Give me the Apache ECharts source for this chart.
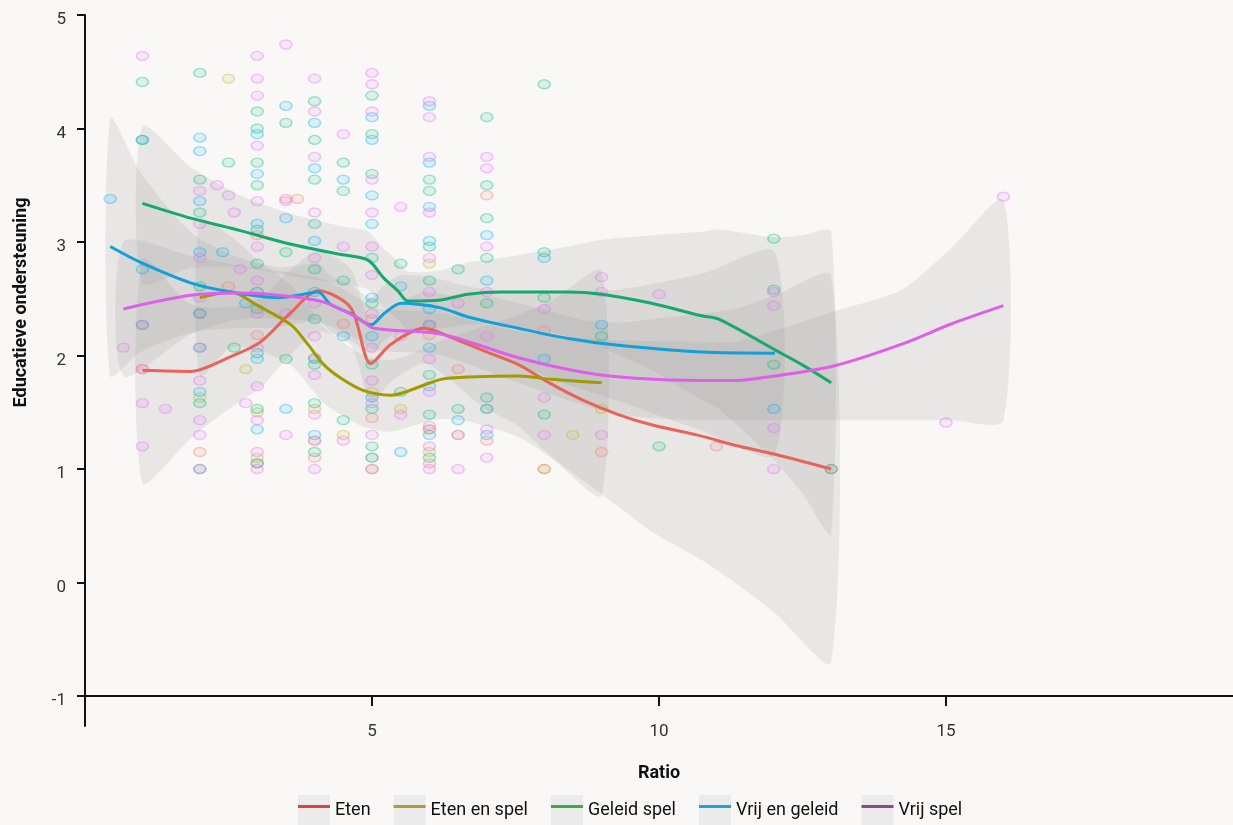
<!DOCTYPE html>
<html><head><meta charset="utf-8">
<script src="https://cdn.jsdelivr.net/npm/echarts@6/dist/echarts.min.js"></script>
<style>html,body{margin:0;padding:0;background:#f9f8f6;}#c{width:1233px;height:825px;}</style>
</head><body><div id="c"></div>
<script>
const groups = ['Eten', 'Eten en spel', 'Geleid spel', 'Vrij en geleid', 'Vrij spel'];
const xTicks = [5, 10, 15];
const yTicks = [-1, 0, 1, 2, 3, 4, 5];

// smoothed curves (x, fitted value, lower, upper)
const etenX  = [1, 1.84, 2.54, 3.06, 3.59, 4.06, 4.63, 4.98, 5.33, 5.91, 6.38, 6.95, 7.55, 8.12, 8.7, 9.29, 9.87, 10.74, 11.32, 12.02, 13];
const etenY  = [1.87, 1.86, 1.99, 2.12, 2.38, 2.57, 2.42, 1.93, 2.10, 2.24, 2.16, 2.04, 1.92, 1.75, 1.60, 1.48, 1.39, 1.29, 1.21, 1.13, 1.0];
const etenLo = [0.88, 1.27, 1.54, 1.72, 2.01, 2.21, 2.09, 1.58, 1.77, 1.93, 1.78, 1.54, 1.38, 1.11, 0.89, 0.67, 0.45, 0.20, 0.0, -0.27, -0.70];
const etenHi = [2.85, 2.45, 2.43, 2.51, 2.76, 2.92, 2.76, 2.28, 2.42, 2.56, 2.53, 2.53, 2.46, 2.39, 2.31, 2.29, 2.32, 2.37, 2.41, 2.53, 2.70];

const etenSpelX  = [2, 2.54, 3.01, 3.59, 3.88, 4.16, 4.46, 4.86, 5.33, 5.91, 6.2, 6.67, 7.55, 8.12, 9];
const etenSpelY  = [2.51, 2.56, 2.44, 2.27, 2.10, 1.92, 1.80, 1.69, 1.65, 1.74, 1.79, 1.81, 1.82, 1.79, 1.76];
const etenSpelLo = [1.82, 2.07, 2.05, 1.91, 1.75, 1.58, 1.48, 1.37, 1.33, 1.41, 1.44, 1.42, 1.28, 1.10, 0.77];
const etenSpelHi = [3.20, 3.05, 2.84, 2.62, 2.44, 2.25, 2.13, 2.00, 1.96, 2.06, 2.13, 2.21, 2.36, 2.48, 2.74];

const geleidX  = [1, 1.84, 2.71, 3.59, 4.46, 4.93, 5.21, 5.45, 5.63, 6.2, 6.67, 7.25, 8.42, 9.0, 9.87, 10.74, 11.04, 12.02, 12.49, 13];
const geleidY  = [3.34, 3.21, 3.10, 2.98, 2.89, 2.84, 2.68, 2.57, 2.48, 2.49, 2.54, 2.56, 2.56, 2.54, 2.46, 2.35, 2.32, 2.05, 1.92, 1.76];
const geleidLo = [2.64, 2.77, 2.78, 2.70, 2.63, 2.58, 2.42, 2.32, 2.23, 2.24, 2.27, 2.27, 2.17, 2.07, 1.87, 1.61, 1.53, 1.07, 0.79, 0.43];
const geleidHi = [4.02, 3.66, 3.41, 3.25, 3.14, 3.09, 2.94, 2.83, 2.74, 2.75, 2.82, 2.86, 2.96, 3.02, 3.06, 3.09, 3.11, 3.04, 3.06, 3.09];

const vrijGelX  = [0.44, 0.97, 1.84, 2.54, 3.36, 3.81, 4.06, 4.28, 4.63, 4.98, 5.21, 5.51, 6.2, 6.67, 7.55, 8.42, 9.29, 10.74, 12.02];
const vrijGelY  = [2.96, 2.82, 2.64, 2.56, 2.51, 2.54, 2.56, 2.45, 2.37, 2.27, 2.37, 2.46, 2.42, 2.34, 2.24, 2.15, 2.09, 2.03, 2.02];
const vrijGelLo = [1.82, 2.03, 2.20, 2.24, 2.25, 2.29, 2.31, 2.21, 2.13, 2.02, 2.13, 2.22, 2.18, 2.08, 1.92, 1.74, 1.60, 1.34, 1.13];
const vrijGelHi = [4.09, 3.61, 3.09, 2.89, 2.78, 2.80, 2.82, 2.70, 2.62, 2.51, 2.62, 2.71, 2.67, 2.61, 2.55, 2.56, 2.58, 2.72, 2.91];

const vrijSpelX  = [0.67, 1.84, 2.71, 3.59, 4.16, 4.76, 5.03, 6.2, 7.55, 8.7, 9.58, 10.74, 11.32, 12.02, 13.06, 14.23, 15.1, 16];
const vrijSpelY  = [2.41, 2.53, 2.55, 2.52, 2.47, 2.33, 2.24, 2.19, 1.98, 1.85, 1.80, 1.78, 1.78, 1.82, 1.91, 2.10, 2.28, 2.44];
const vrijSpelLo = [1.82, 2.19, 2.32, 2.32, 2.28, 2.14, 2.05, 2.00, 1.76, 1.56, 1.46, 1.43, 1.43, 1.43, 1.43, 1.43, 1.43, 1.43];
const vrijSpelHi = [3.00, 2.88, 2.79, 2.73, 2.67, 2.51, 2.42, 2.37, 2.21, 2.15, 2.13, 2.12, 2.12, 2.22, 2.39, 2.58, 2.95, 3.37];

// observations [ratio, score]
const etenPts = [[1,1.88],[2,2.37],[2,1.15],[2.5,2.61],[3,3.06],[3,2.18],[3,1.05],[3.5,3.38],[3.7,3.38],[4,1.98],[4,1.1],[4.5,2.28],[5,2.32],[5,1.45],[6,2.18],[6,1.35],[6,1.05],[6.5,1.88],[7,3.41],[7,1.25],[8,2.22],[8,1.0],[9,1.15],[11,1.2],[13,1.0]];
const etenSpelPts = [[2,1.63],[2.5,4.44],[2.8,1.88],[3,2.56],[3,1.5],[3,1.1],[4,1.53],[4,1.25],[4.5,1.3],[5,1.68],[5,1.0],[5,1.1],[5.5,1.53],[6,2.81],[6,1.35],[6,1.15],[6.5,1.3],[7,1.53],[8,1.0],[8.5,1.3],[9,1.53]];
const geleidPts = [[1,4.41],[1,3.9],[1,2.27],[2,4.49],[2,3.55],[2,3.26],[2,2.61],[2,2.07],[2,1.58],[2,1.0],[2.5,3.7],[2.6,2.07],[3,4.15],[3,4.0],[3,3.7],[3,3.5],[3,3.11],[3,2.81],[3,2.41],[3,2.02],[3,1.53],[3,1.05],[3.5,4.05],[3.5,2.91],[3.5,1.97],[4,4.24],[4,3.9],[4,3.55],[4,3.16],[4,2.76],[4,2.32],[4,1.92],[4,1.58],[4,1.15],[4.5,3.7],[4.5,3.45],[4.5,2.66],[4.5,1.43],[5,4.29],[5,3.95],[5,3.6],[5,2.86],[5,2.46],[5,1.92],[5,1.53],[5,1.2],[5.5,2.81],[5.5,1.68],[6,3.55],[6,3.45],[6,2.96],[6,2.66],[6,2.27],[6,1.83],[6,1.48],[6,1.1],[6.5,2.76],[6.5,1.53],[7,4.1],[7,3.5],[7,3.21],[7,2.86],[7,2.46],[7,1.63],[8,4.39],[8,2.91],[8,2.51],[8,1.48],[9,2.17],[10,1.2],[12,3.03],[12,2.58],[12,1.92],[13,1.0]];
const vrijGelPts = [[0.44,3.38],[1,3.9],[1,2.76],[2,3.92],[2,3.8],[2,3.36],[2,2.91],[2,2.37],[2,1.68],[2.4,2.91],[2.8,2.46],[3,3.95],[3,3.6],[3,3.16],[3,2.56],[3,1.97],[3,1.35],[3.5,4.2],[3.5,3.21],[3.5,1.53],[4,4.05],[4,3.65],[4,3.01],[4,2.56],[4,1.97],[4,1.3],[4.5,3.55],[4.5,2.17],[5,4.1],[5,3.9],[5,3.41],[5,3.16],[5,2.51],[5,2.17],[5,1.63],[5,1.1],[5.5,2.61],[5.5,1.15],[6,4.2],[6,3.7],[6,3.31],[6,3.01],[6,2.41],[6,2.07],[6,1.73],[6,1.3],[6.5,1.43],[7,3.06],[7,2.66],[7,1.53],[7,1.3],[8,2.86],[8,1.97],[9,2.27],[12,1.53]];
const vrijSpelPts = [[0.67,2.07],[1,4.64],[1,2.27],[1,1.88],[1,1.58],[1,1.2],[1.4,1.53],[2,3.45],[2,3.16],[2,2.86],[2,2.51],[2,2.07],[2,1.78],[2,1.43],[2,1.3],[2,1.0],[2.3,3.5],[2.5,3.41],[2.6,3.26],[2.7,2.76],[2.8,1.58],[3,4.64],[3,4.44],[3,4.29],[3,3.85],[3,3.36],[3,2.96],[3,2.66],[3,2.37],[3,2.07],[3,1.73],[3,1.43],[3,1.15],[3,1.0],[3.5,4.74],[3.5,3.36],[3.5,2.37],[3.5,1.3],[4,4.44],[4,4.15],[4,3.75],[4,3.26],[4,2.86],[4,2.46],[4,2.17],[4,1.83],[4,1.48],[4,1.25],[4,1.0],[4.5,3.95],[4.5,2.96],[4.5,1.25],[5,4.49],[5,4.39],[5,4.15],[5,3.55],[5,3.26],[5,2.96],[5,2.71],[5,2.37],[5,2.07],[5,1.78],[5,1.58],[5,1.3],[5,1.0],[5.5,3.31],[5.5,2.17],[5.5,1.48],[6,4.24],[6,4.1],[6,3.75],[6,3.26],[6,2.86],[6,2.56],[6,2.27],[6,1.97],[6,1.68],[6,1.38],[6,1.2],[6,1.0],[6.5,2.46],[6.5,1.3],[6.5,1.0],[7,3.75],[7,3.65],[7,2.96],[7,2.56],[7,2.17],[7,1.35],[7,1.1],[8,2.41],[8,1.63],[8,1.3],[9,2.69],[9,2.56],[9,1.3],[10,2.54],[12,2.56],[12,2.44],[12,1.36],[12,1.0],[15,1.41],[16,3.4]];

const lineColors = ['#E8645A', '#A39A00', '#16A86E', '#139FD9', '#DE5FE8'];
const pointRGB = ['248,118,109', '190,180,40', '0,191,125', '0,176,246', '231,107,243'];
const legendColors = ['#D9443F', '#B39A32', '#3DAA4C', '#1CA3DA', '#8B4B80'];

const curves = [
  [etenX, etenY, etenLo, etenHi, etenPts],
  [etenSpelX, etenSpelY, etenSpelLo, etenSpelHi, etenSpelPts],
  [geleidX, geleidY, geleidLo, geleidHi, geleidPts],
  [vrijGelX, vrijGelY, vrijGelLo, vrijGelHi, vrijGelPts],
  [vrijSpelX, vrijSpelY, vrijSpelLo, vrijSpelHi, vrijSpelPts]
];

const FONT = 'Roboto';
const series = [];
curves.forEach((c, gi) => {
  const [xs, ys, lo, hi, pts] = c;
  series.push({
    name: groups[gi], type: 'custom', z: 1, silent: true, clip: true,
    data: xs.map((x, i) => [x, lo[i], hi[i]]),
    renderItem: function (params, api) {
      if (params.dataIndex !== 0) return null;
      const pts2 = [];
      for (let i = 0; i < xs.length; i++) pts2.push(api.coord([xs[i], hi[i]]));
      for (let i = xs.length - 1; i >= 0; i--) pts2.push(api.coord([xs[i], lo[i]]));
      return { type: 'polygon', shape: { points: pts2, smooth: 0.25 }, style: { fill: 'rgba(150,150,150,0.17)' } };
    }
  });
  series.push({
    name: groups[gi], type: 'scatter', z: 2, silent: true,
    symbol: 'circle', symbolSize: [12, 9],
    data: pts,
    itemStyle: { color: 'rgba(' + pointRGB[gi] + ',0.15)', borderColor: 'rgba(' + pointRGB[gi] + ',0.45)', borderWidth: 1.5 }
  });
  series.push({
    name: groups[gi], type: 'line', z: 3, silent: true,
    showSymbol: false, symbol: 'none', smooth: 0.3,
    data: xs.map((x, i) => [x, ys[i]]),
    lineStyle: { color: lineColors[gi], width: 3 },
    itemStyle: { color: lineColors[gi] }
  });
});

const iconPath = 'path://M0,0L0.01,0L0,0.01Z M32,30L31.99,30L32,29.99Z M0,10L32,10L32,13L0,13Z';

const chart = echarts.init(document.getElementById('c'), null, { renderer: 'canvas' });
chart.setOption({
  backgroundColor: '#f9f8f6',
  animation: false,
  textStyle: { fontFamily: FONT },
  grid: { left: 85, right: 0, top: 15, bottom: 99, containLabel: false },
  xAxis: {
    type: 'value', min: 0, max: 20, offset: -30,
    name: 'Ratio', nameLocation: 'middle', nameGap: 68,
    nameTextStyle: { fontFamily: FONT, fontWeight: 'bold', fontSize: 18, color: '#111' },
    axisLine: { show: true, onZero: false, lineStyle: { color: '#111', width: 2 } },
    axisTick: { show: true, customValues: xTicks, length: 10, lineStyle: { color: '#111', width: 2 } },
    axisLabel: { customValues: xTicks, margin: 27, fontSize: 17, color: '#333', fontFamily: FONT },
    splitLine: { show: false }
  },
  yAxis: {
    type: 'value', min: -1.264, max: 5,
    name: 'Educatieve ondersteuning', nameLocation: 'middle', nameGap: 55, nameRotate: 90,
    nameTextStyle: { fontFamily: FONT, fontWeight: 'bold', fontSize: 18, color: '#111', padding: [0, 0, 0, 136] },
    axisLine: { show: true, onZero: false, lineStyle: { color: '#111', width: 2 } },
    axisTick: { show: true, customValues: yTicks, length: 8, lineStyle: { color: '#111', width: 2 } },
    axisLabel: {
      customValues: yTicks, margin: 19, fontSize: 17, color: '#333', fontFamily: FONT,
      formatter: '{a|{value}}',
      rich: { a: { fontSize: 17, color: '#333', fontFamily: FONT, padding: [10, 0, 0, 0] } }
    },
    splitLine: { show: false }
  },
  legend: [
    {
      z: 1, left: 298, top: 795, padding: 0, orient: 'horizontal', itemGap: 23,
      itemWidth: 32, itemHeight: 30, icon: 'rect', selectedMode: false,
      itemStyle: { color: '#ebebeb', borderWidth: 0 },
      textStyle: { fontSize: 18, color: 'rgba(0,0,0,0)', fontFamily: FONT },
      data: groups.map(g => ({ name: g, icon: 'rect', itemStyle: { color: '#ebebeb' } }))
    },
    {
      z: 2, left: 298, top: 795, padding: 0, orient: 'horizontal', itemGap: 23,
      itemWidth: 32, itemHeight: 30, icon: iconPath, selectedMode: false,
      textStyle: { fontSize: 18, color: '#111', fontFamily: FONT },
      data: groups.map((g, i) => ({ name: g, icon: iconPath, itemStyle: { color: legendColors[i], borderWidth: 0 } }))
    }
  ],
  series: series
});
</script>
</body></html>
